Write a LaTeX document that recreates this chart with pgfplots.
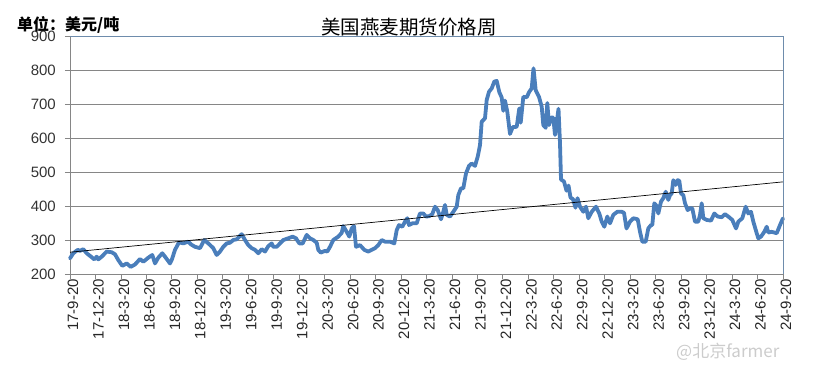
\documentclass[border=0pt]{standalone}
\usepackage{pgfplots}
\pgfplotsset{compat=1.18}
\usepackage{fontspec}
\setmainfont{Liberation Sans}
\newfontfamily\cjk{Noto Sans CJK SC}
\definecolor{lineblue}{RGB}{74,126,187}
\definecolor{gridgray}{RGB}{134,134,134}
\definecolor{bordercol}{RGB}{110,140,172}
\begin{document}
\begin{tikzpicture}
\path[use as bounding box] (-70bp,-95bp) rectangle (748bp,274bp);
\begin{axis}[
  at={(0,0)}, anchor=south west,
  scale only axis, width=713bp, height=238bp,
  xmin=0, xmax=28, ymin=200, ymax=900,
  xtick={0,...,28},
  xticklabels={17-9-20,17-12-20,18-3-20,18-6-20,18-9-20,18-12-20,19-3-20,19-6-20,19-9-20,19-12-20,20-3-20,20-6-20,20-9-20,20-12-20,21-3-20,21-6-20,21-9-20,21-12-20,22-3-20,22-6-20,22-9-20,22-12-20,23-3-20,23-6-20,23-9-20,23-12-20,24-3-20,24-6-20,24-9-20},
  xticklabel style={rotate=90, anchor=east, inner sep=0pt, yshift=-3bp, font=\fontsize{15bp}{15bp}\selectfont, text=black!85},
  ytick={200,300,...,900},
  yticklabel style={inner sep=0pt, xshift=-9bp, font=\fontsize{15bp}{15bp}\selectfont, text=black!80},
  /pgf/number format/assume math mode=true,
  ymajorgrids,
  major grid style={gridgray, line width=0.8bp},
  axis x line*=bottom, axis y line*=left,
  axis line style={gridgray, line width=0.8bp, -},
  tick align=outside, major tick length=5bp,
  tick style={gridgray, line width=0.8bp},
  clip=false,
]
\addplot[lineblue, line width=3.8bp, line join=round, line cap=round] table[x expr=(\thisrowno{0}-70)/25.464, y index=1] {
px v
70 246
73.3 261
77.7 271
80 268
83.3 273
86.7 261
91 251
94.3 243
96.7 251
98.3 243
101.7 251
106.7 266
111.7 264
115 258
118.3 241
122.3 224
126.7 231
130.7 221
135 228
140 244
143.3 236
148.3 248
152.3 256
155 231
158.3 248
162.3 261
165 251
170 231
171.7 241
175 271
179 293
183.3 290
188.3 295
191 287
195 280
200 276
204.3 300
208.3 290
213.3 276
216.7 256
220 266
223.3 280
226.7 290
230 292
233.3 300
236.7 302
239.3 310
241.7 317
245 300
248.3 285
251.7 276
255 271
258.3 261
261.7 273
265 266
268.3 282
271.7 290
273.3 280
276.7 280
280 290
283.3 300
288.3 305
292.7 310
296 305
299.3 290
302.7 290
306.7 315
310 305
313.3 300
316.7 292
318.3 271
320.7 263
325 268
327.3 266
330 280
333.3 300
338.3 310
341.7 321
343.3 341
346.7 324
349.3 310
351.7 334
354 341
356 280
360 285
364.3 271
368.3 266
371.7 271
375 276
378.3 285
381.7 300
385 295
390 295
394.3 290
396.7 329
399 344
402.3 339
405 354
407.3 364
409 344
412.3 349
416.7 349
420 378
423.3 378
426 369
429 370
432.3 376
435 398
437.7 388
441 361
443.3 383
445 403
446.7 374
450 369
453.3 383
456.7 398
458.3 432
461 452
463.3 452
466 496
469 518
471.7 525
475 518
477.7 545
480 579
481.7 648
485 658
486.7 712
489 736
491.7 746
494.3 766
496.7 768
499.3 735
501.7 719
503.3 680
505 710
507.3 677
510 612
512.7 632
516.7 633
519.3 687
520.7 645
523.3 721
526.7 720
529.3 736
531.7 746
533.5 805
535.7 740
539 721
541.7 692
543.3 638
545.7 630
547.3 703
549 638
551 660
553.3 660
555 609
556.7 645
558.5 686
560 584
561 478
564 472
566.5 445
568.5 460
570.5 425
573 420
575.5 395
577.5 423
580 398
583.3 383
586 398
588.3 364
591.7 383
596 398
599.3 378
601.7 354
604.3 339
607.3 369
610 349
613.3 374
617.3 383
621.7 383
624 380
626.5 334
630 354
633.3 364
637.7 361
640 324
642.3 295
645.7 295
648.3 334
651 344
652.3 344
654.3 408
656.7 400
658.3 378
661 413
663.3 423
665.7 442
668.3 418
670 432
671.7 437
673.3 476
675.7 462
677.7 476
679.3 474
681 437
683.3 432
685 408
687.7 388
690 393
692.3 393
695 354
698.3 354
700 374
701.7 408
703.3 364
706.7 359
711 357
714.3 378
717.7 369
721.7 367
725 376
728.3 369
732.3 359
736 334
738.3 354
742.3 364
745.7 398
748.3 378
751 383
753.3 354
756.7 320
758.3 305
761 310
764.3 324
766.7 339
768.3 322
771.7 324
776.7 320
780 344
783 364
};
\addplot[black, line width=0.7bp] coordinates {(0,264) (28,471)};
\draw[bordercol, line width=0.9bp] (rel axis cs:0,1) -- (rel axis cs:1,1) -- (rel axis cs:1,0);
\end{axis}
\node[font=\cjk\fontsize{19.5bp}{20bp}\selectfont, inner sep=0pt] at (339bp,246.5bp) {美国燕麦期货价格周};
\node[anchor=west, font=\cjk\bfseries\fontsize{16bp}{16bp}\selectfont, inner sep=0pt] at (-53bp,249bp) {单位：美元/吨};
\node[anchor=west, text=gray!40, font=\cjk\fontsize{17bp}{17bp}\selectfont, inner sep=0pt] at (606bp,-78bp) {@北京farmer};
\end{tikzpicture}
\end{document}
